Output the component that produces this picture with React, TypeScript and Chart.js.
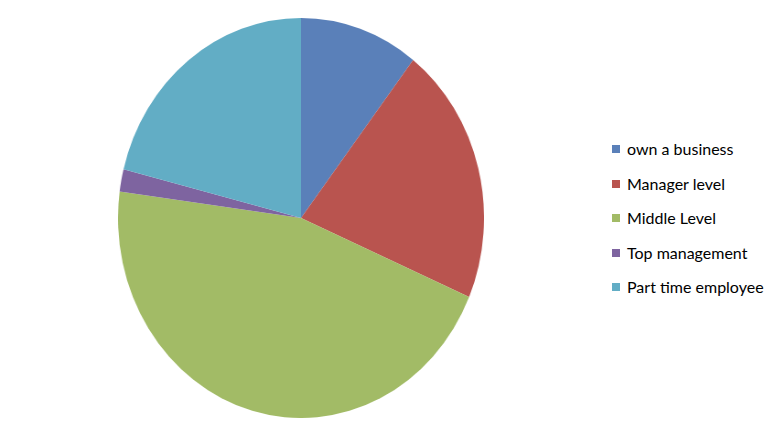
import { useEffect, useRef } from "react"
import { Chart, type ChartConfiguration, registerables } from "chart.js"

Chart.register(...registerables)

// categorias y valores (porcentaje aproximado)
const categories = ["own a business", "Manager level", "Middle Level", "Top management", "Part time employee"]
const values = [10.5, 21, 45.7, 1.8, 21.1]
const colors = ["#5a80b9", "#b9544f", "#a2bb66", "#7e64a0", "#62adc5"]

export default function App() {
	const canvasRef = useRef<HTMLCanvasElement>(null)
	const chartRef = useRef<Chart | null>(null)

	useEffect(() => {
		if (!canvasRef.current) return
		if (chartRef.current) chartRef.current.destroy()

		const config: ChartConfiguration = {
			type: "pie",
			data: {
				labels: categories,
				datasets: [
					{
						data: values,
						backgroundColor: colors,
						borderWidth: 0,
					},
				],
			},
			options: {
				animation: false,
				responsive: false,
				maintainAspectRatio: false,
				devicePixelRatio: 1,
				layout: { padding: 0 },
				plugins: {
					legend: { display: false },
					tooltip: { enabled: false },
				},
			},
		}

		chartRef.current = new Chart(canvasRef.current, config)

		return () => {
			if (chartRef.current) chartRef.current.destroy()
		}
	}, [])

	return (
		<div style={{ position: "fixed", left: 0, top: 0, width: 781, height: 439, background: "#fff" }}>
			{/* el pastel original esta algo achatado en horizontal: se dibuja en 400x400 y se muestra a 366x400 */}
			<canvas
				ref={canvasRef}
				width={400}
				height={400}
				style={{ position: "absolute", left: 118, top: 18, width: 366, height: 400 }}
			></canvas>
			<div
				style={{
					position: "absolute",
					left: 612,
					top: 132,
					fontFamily: "Lato, 'Open Sans', sans-serif",
					fontSize: 16,
					color: "#000",
				}}
			>
				{categories.map((c, i) => (
					<div key={c} style={{ display: "flex", alignItems: "center", height: 34.5 }}>
						<span style={{ width: 8, height: 8, background: colors[i], marginRight: 7, display: "inline-block" }}></span>
						<span style={{ lineHeight: "24px" }}>{c}</span>
					</div>
				))}
			</div>
		</div>
	)
}
